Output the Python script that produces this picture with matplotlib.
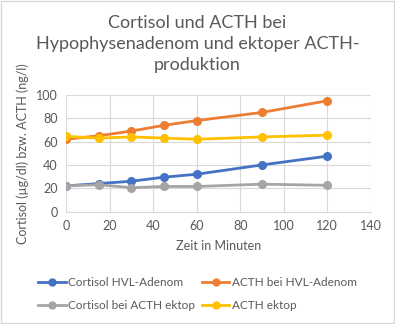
import matplotlib.pyplot as plt
from matplotlib.lines import Line2D

# Zeitpunkte in Minuten
zeit = [0, 15, 30, 45, 60, 90, 120]

cortisol_hvl = [22, 24, 26, 29.5, 32, 40, 47.5]
acth_hvl = [62, 65, 69, 74, 78, 85, 95]
cortisol_ektop = [22, 23, 20.5, 21.5, 21.5, 23.5, 22.5]
acth_ektop = [64.5, 63, 64, 63, 62, 64, 65.5]

series_names = ['Cortisol HVL-Adenom', 'ACTH bei HVL-Adenom',
                'Cortisol bei ACTH ektop', 'ACTH ektop']
series_values = [cortisol_hvl, acth_hvl, cortisol_ektop, acth_ektop]
colors = ['#4472C4', '#ED7D31', '#A5A5A5', '#FFC000']

x_ticks = [0, 20, 40, 60, 80, 100, 120, 140]
y_ticks = [0, 20, 40, 60, 80, 100]

plt.rcParams['font.family'] = ['Lato', 'DejaVu Sans']
text_col = '#595959'
grid_col = '#D9D9D9'

fig = plt.figure(figsize=(3.95, 3.24), dpi=100)
ax = fig.add_axes([0.167, 0.347, 0.772, 0.36])

for name, vals, c in zip(series_names, series_values, colors):
    ax.plot(zeit, vals, color=c, lw=2.0, marker='o', ms=5.5, label=name,
            solid_capstyle='round', zorder=3)

ax.set_xlim(0, 140)
ax.set_ylim(0, 100)
ax.set_xticks(x_ticks)
ax.set_yticks(y_ticks)
ax.grid(True, color=grid_col, lw=0.8)
ax.set_axisbelow(True)
for s in ['top', 'right', 'left']:
    ax.spines[s].set_visible(False)
ax.spines['bottom'].set_color(grid_col)
ax.tick_params(length=0, labelsize=9, labelcolor=text_col, pad=6)

ax.set_xlabel('Zeit in Minuten', fontsize=9, color=text_col, labelpad=6)
ax.set_ylabel('Cortisol (µg/dl) bzw. ACTH (ng/l)', fontsize=9,
              color=text_col, labelpad=5)

fig.suptitle('Cortisol und ACTH bei\nHypophysenadenom und ektoper ACTH-\nproduktion',
             y=0.955, va='top', fontsize=13, color=text_col, linespacing=1.4)

# Legende: Zeilenweise wie im Original (matplotlib füllt spaltenweise)
order = [0, 2, 1, 3]
handles = [Line2D([], [], color=colors[i], lw=2.0, marker='o', ms=5) for i in order]
labels = [series_names[i] for i in order]
fig.legend(handles, labels, ncol=2, loc='center', bbox_to_anchor=(0.5, 0.093),
           frameon=False, fontsize=8.5, labelcolor=text_col, handlelength=2.3,
           handletextpad=0.2, columnspacing=0.6, labelspacing=1.0)

# Rahmen um die Grafik
fig.patches.append(plt.Rectangle((0.002, 0.002), 0.996, 0.996, transform=fig.transFigure,
                                 fill=False, edgecolor='#D9D9D9', lw=1))

fig.savefig('out.png', dpi=100)
